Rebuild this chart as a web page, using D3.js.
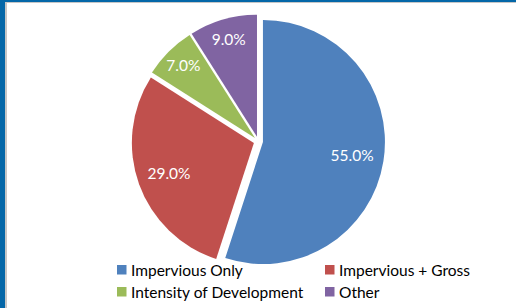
<!DOCTYPE html>
<html>
<head>
<meta charset="utf-8">
<script src="https://cdn.jsdelivr.net/npm/d3@7"></script>
<style>
  body { margin: 0; background: #fff; }
  svg { display: block; }
</style>
</head>
<body>
<div id="chart"></div>
<script>
const svgWidth = 516;
const svgHeight = 308;

const categories = ["Impervious Only", "Impervious + Gross", "Intensity of Development", "Other"];
const shares = [55.0, 29.0, 7.0, 9.0];
const colors = ["#4f81bd", "#c0504d", "#9bbb59", "#8064a2"];

const center = { x: 258.3, y: 141.3 };
const radius = 122;
const explode = 4.7;
const fontFam = "Lato, 'Open Sans', sans-serif";

const svg = d3.select("#chart").append("svg")
    .attr("width", svgWidth)
    .attr("height", svgHeight);

// frame edges
svg.append("rect").attr("x", 0).attr("y", 0).attr("width", svgWidth).attr("height", 3).attr("fill", "#c6c6c6");
svg.append("rect").attr("x", 0).attr("y", 0).attr("width", 7).attr("height", svgHeight).attr("fill", "#c6c6c6");
svg.append("rect").attr("x", 0).attr("y", 0).attr("width", svgWidth).attr("height", 2).attr("fill", "#0467a8");
svg.append("rect").attr("x", 0).attr("y", 0).attr("width", 5).attr("height", svgHeight).attr("fill", "#0467a8");

const data = categories.map((c, i) => ({ name: c, value: shares[i], color: colors[i] }));

const pie = d3.pie().sort(null).value(d => d.value);
const arc = d3.arc().innerRadius(0).outerRadius(radius);

// big slices keep their label closer in, small ones further out (like Excel best fit)
function labelPos(d) {
    const r = radius * (d.data.value > 20 ? 0.74 : 0.83);
    return d3.arc().innerRadius(r).outerRadius(r).centroid(d);
}

const slices = svg.append("g")
    .attr("transform", `translate(${center.x},${center.y})`)
    .selectAll("g")
    .data(pie(data))
    .enter()
    .append("g")
    .attr("transform", d => {
        const mid = (d.startAngle + d.endAngle) / 2;
        return `translate(${explode * Math.sin(mid)},${-explode * Math.cos(mid)})`;
    });

slices.append("path")
    .attr("d", arc)
    .attr("fill", d => d.data.color);

slices.append("text")
    .attr("transform", d => `translate(${labelPos(d)})`)
    .attr("text-anchor", "middle")
    .attr("dy", "0.33em")
    .attr("fill", "#fff")
    .style("font-family", fontFam)
    .style("font-size", "15.5px")
    .text(d => d.data.value.toFixed(1) + "%");

// legend
const legendX = [117, 325];
const legendY = [265, 287];
const legend = svg.append("g")
    .selectAll("g")
    .data(data)
    .enter()
    .append("g")
    .attr("transform", (d, i) => `translate(${legendX[i % 2]},${legendY[Math.floor(i / 2)]})`);

legend.append("rect")
    .attr("width", 9.5)
    .attr("height", 9.5)
    .attr("fill", d => d.color);

legend.append("text")
    .attr("x", 14)
    .attr("y", 11)
    .attr("fill", "#000")
    .style("font-family", fontFam)
    .style("font-size", "15.5px")
    .text(d => d.name);
</script>
</body>
</html>
